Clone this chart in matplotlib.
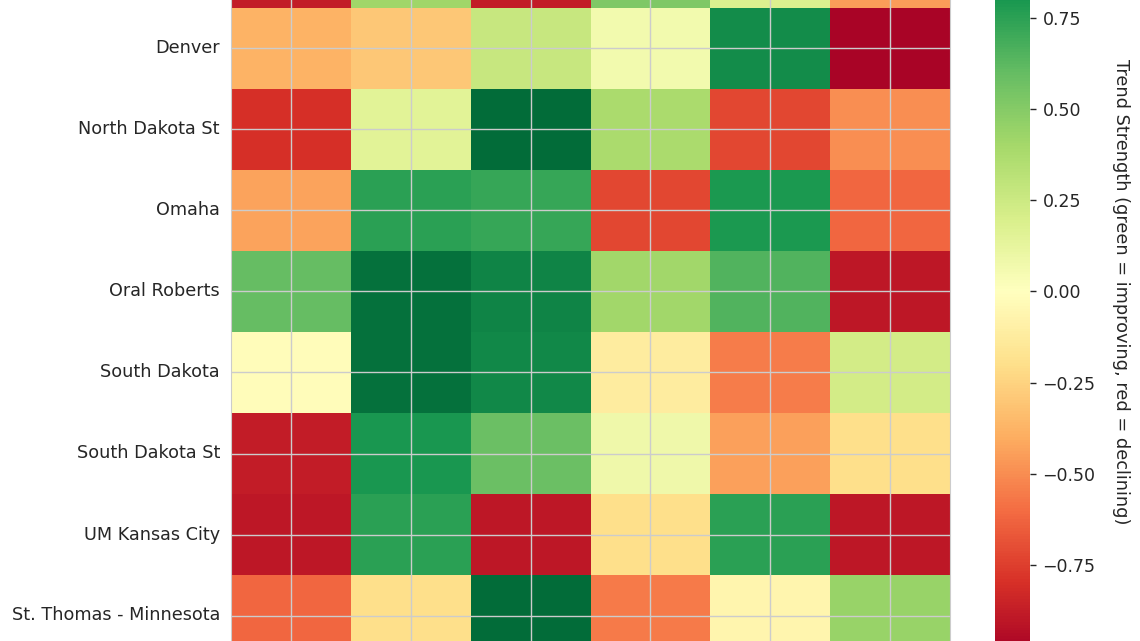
import numpy as np
import pandas as pd
import matplotlib
matplotlib.use("Agg")
import matplotlib.pyplot as plt
import seaborn as sns

teams = ["North Dakota", "Denver", "North Dakota St", "Omaha", "Oral Roberts",
         "South Dakota", "South Dakota St", "UM Kansas City", "St. Thomas - Minnesota"]
metrics = ["Wins", "Scoring", "Defense", "Rebounding", "Shooting", "Turnovers"]

wins = [-0.88, -0.38, -0.80, -0.43, 0.60, -0.02, -0.88, -0.90, -0.62]
scoring = [0.42, -0.30, 0.15, 0.75, 0.96, 0.96, 0.80, 0.75, -0.20]
defense = [-0.88, 0.27, 0.98, 0.72, 0.88, 0.86, 0.58, -0.90, 0.98]
rebounding = [0.52, 0.07, 0.38, -0.72, 0.41, -0.12, 0.08, -0.20, -0.56]
shooting = [0.18, 0.85, -0.72, 0.79, 0.65, -0.55, -0.44, 0.75, -0.07]
turnovers = [-0.45, -0.98, -0.50, -0.62, -0.90, 0.22, -0.20, -0.90, 0.44]

df = pd.DataFrame({"Wins": wins, "Scoring": scoring, "Defense": defense,
                   "Rebounding": rebounding, "Shooting": shooting,
                   "Turnovers": turnovers}, index=teams)[metrics]

sns.set_style("whitegrid")
plt.rcParams["font.family"] = ["DejaVu Sans"]

W, H = 1140, 641
fig = plt.figure(figsize=(W / 100, H / 100), dpi=100)
# the visible picture is a crop of a taller heatmap
ax = fig.add_axes([231 / W, (H - 656) / H, 719 / W, 729 / H])
cax = fig.add_axes([995 / W, (H - 656) / H, 35 / W, 729 / H])

sns.heatmap(df, ax=ax, cbar_ax=cax, cmap="RdYlGn", vmin=-1, vmax=1,
            cbar_kws={"label": "Trend Strength (green = improving, red = declining)"})

ax.set_axisbelow(False)
ax.grid(True, color="#cccccc", linewidth=1)
ax.set_xticklabels([])
ax.set_xlabel("")
ax.tick_params(axis="y", labelsize=12.7, rotation=0, length=0, pad=8, labelcolor="#262626")
# first row sits above the visible area
ax.get_yticklabels()[0].set_visible(False)
for s in ax.spines.values():
    s.set_visible(True)
    s.set_color("#cccccc")

cax.tick_params(labelsize=12.5, length=4, width=1, pad=5, labelcolor="#262626", color="#262626")
cax.yaxis.label.set_size(12.8)
cax.yaxis.label.set_color("#262626")
cax.yaxis.label.set_rotation(270)
cax.yaxis.labelpad = 25
cax.set_yticks([-0.75, -0.5, -0.25, 0, 0.25, 0.5, 0.75])

fig.savefig("out.png", dpi=100)
